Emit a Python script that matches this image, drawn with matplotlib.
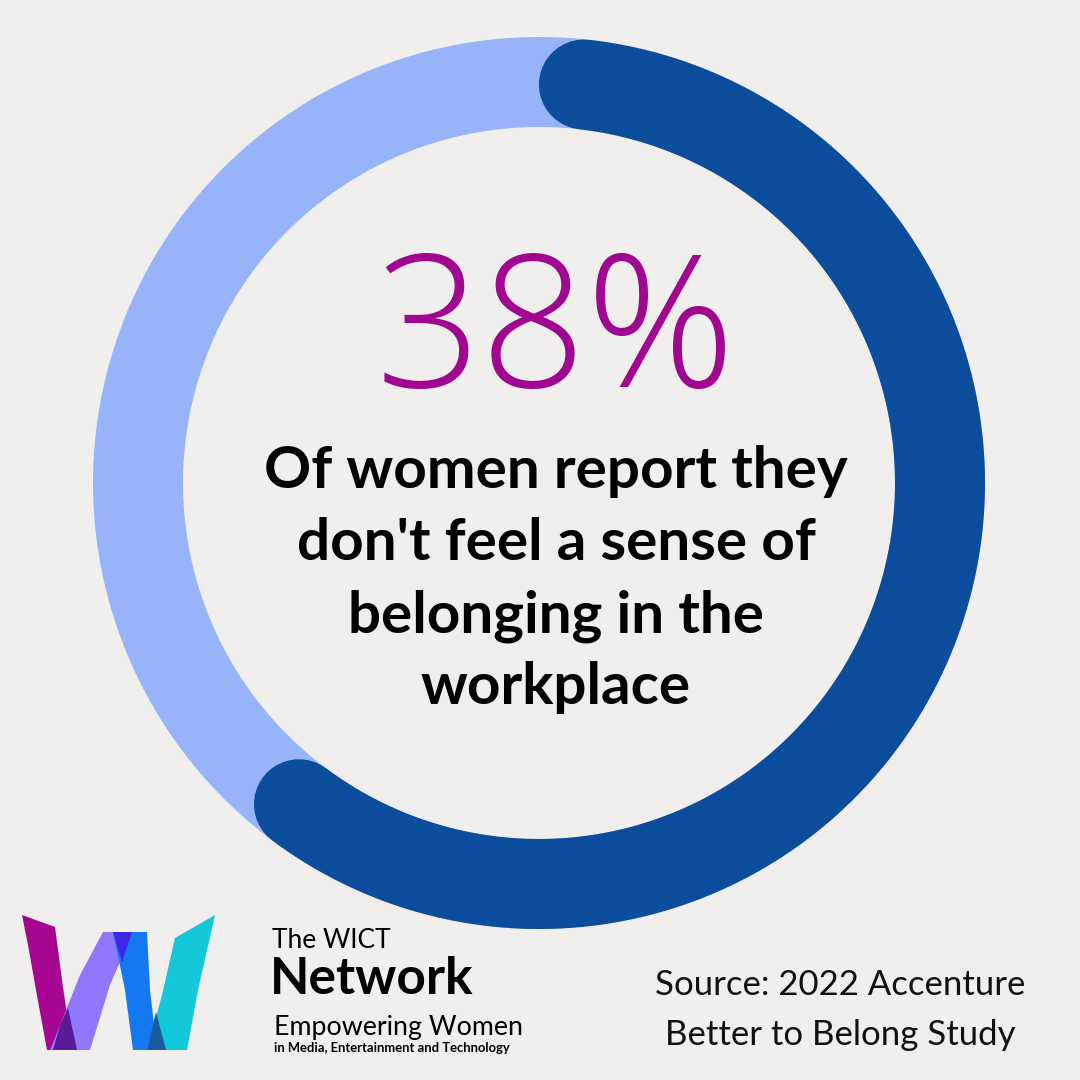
import numpy as np
import matplotlib.pyplot as plt
from matplotlib.patches import Polygon

# data
share_labels = ['feel they belong', "don't feel they belong"]
share_values = [62, 38]
big_label = '38%'
statement = ["Of women report they", "don't feel a sense of", "belonging in the", "workplace"]
source_lines = ["Source: 2022 Accenture", "Better to Belong Study"]

BG = '#f0efed'
DARK = '#0c4c9c'
LIGHT = '#97b4fb'
PURPLE = '#a0068f'

fig = plt.figure(figsize=(10.8, 10.8), dpi=100)
fig.patch.set_facecolor(BG)
ax = fig.add_axes([0, 0, 1, 1])
ax.set_xlim(0, 1080)
ax.set_ylim(1080, 0)
ax.axis('off')
ax.set_facecolor(BG)

# ring (pixel coords)
cx, cy, r = 539, 483, 401
half_w = 45
ring_w = 2 * half_w * 72 / 100  # px -> pt

t = np.linspace(0, 2 * np.pi, 500)
ax.plot(cx + r * np.cos(t), cy - r * np.sin(t), color=LIGHT, lw=ring_w,
        solid_capstyle='butt')

# dark arc: value measured from the top, round caps kept inside the value
cap = half_w / r
span = 2 * np.pi * share_values[0] / sum(share_values)
start = np.pi / 2 - cap
end = np.pi / 2 - span + cap
t = np.linspace(start, end, 500)
ax.plot(cx + r * np.cos(t), cy - r * np.sin(t), color=DARK, lw=ring_w,
        solid_capstyle='round')

# center text
ax.text(556, 339, big_label, color=PURPLE, fontsize=133, family='Open Sans',
        fontweight=300, ha='center', va='center')
for i, line in enumerate(statement):
    ax.text(556, 472 + i * 72, line, color='black', fontsize=42, family='Lato',
            fontweight='bold', ha='center', va='center')

# source
for i, line in enumerate(source_lines):
    ax.text(840, 985 + i * 50, line, color='#111111', fontsize=25, family='Lato',
            ha='center', va='center')

# logo W ribbons
ribbons = [
    ('#a5058f', [(22, 915), (55, 927), (62, 980), (72, 1050), (47, 1050), (36, 990), (28, 945)]),
    ('#9178fb', [(50, 1050), (90, 1050), (110, 985), (133, 932), (103, 932), (80, 975)]),
    ('#5a1a9a', [(53, 1050), (77, 1050), (68, 1008), (60, 1025)]),
    ('#1479f0', [(113, 932), (147, 932), (150, 990), (157, 1050), (133, 1050), (125, 990)]),
    ('#3a2ae8', [(113, 932), (132, 932), (122, 962)]),
    ('#13c8d8', [(147, 1050), (187, 1050), (198, 990), (215, 915), (175, 938), (162, 995)]),
    ('#1a5aa0', [(147, 1050), (166, 1050), (156, 1012)]),
]
for c, pts in ribbons:
    ax.add_patch(Polygon(pts, closed=True, color=c, lw=0))

ax.text(272, 941, 'The WICT', fontsize=19, family='Lato', ha='left', va='center')
ax.text(270, 979, 'Network', fontsize=37, family='Lato', fontweight='bold',
        ha='left', va='center')
ax.text(274, 1027, 'Empowering Women', fontsize=19.3, family='Lato', ha='left',
        va='center')
ax.text(274, 1048, 'in Media, Entertainment and Technology', fontsize=9.4,
        family='Lato', fontweight='bold', ha='left', va='center')

fig.savefig('out.png', dpi=100, facecolor=BG)
